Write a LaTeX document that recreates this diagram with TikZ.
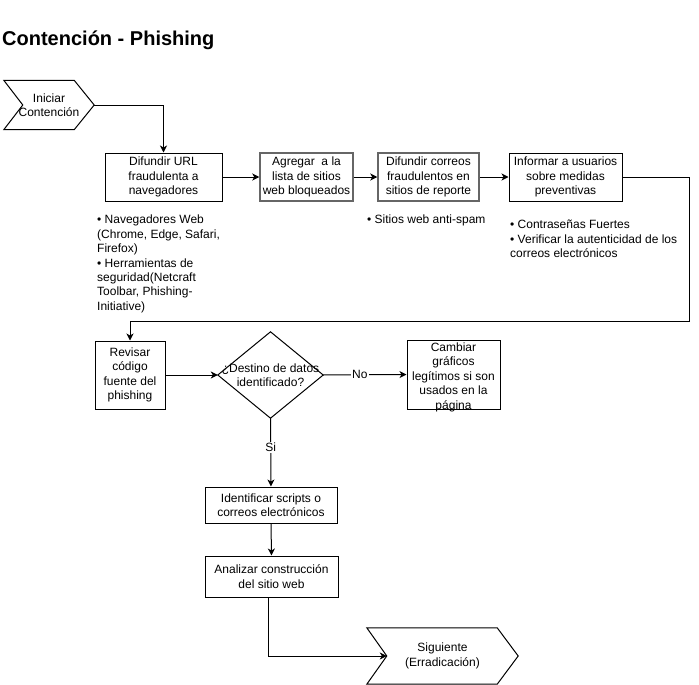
\documentclass[tikz,border=0pt]{standalone}
\usepackage{fontspec}
\setmainfont{Liberation Sans}
\usetikzlibrary{arrows.meta,calc}
\begin{document}
\begin{tikzpicture}[x=1pt,y=-1pt,
  every node/.style={font=\fontsize{12}{14.4}\selectfont, inner sep=0pt},
  box/.style={draw=black, line width=1pt, align=center},
  graybox/.style={draw=black!60, line width=1.5pt, align=center},
  note/.style={align=left, anchor=north west},
  shapeline/.style={draw=black, line width=1pt},
  arr/.style={-{Stealth[length=7pt,width=7pt,inset=2pt]}, line width=1pt, draw=black},
  lbl/.style={fill=white, inner sep=1pt}]
\useasboundingbox (0,0) rectangle (699,685);

% title
\node[anchor=base west, font=\fontsize{20}{24}\selectfont\bfseries] (title) at (2,46) {Contención - Phishing};

% start chevron
\node[minimum width=90, minimum height=49, align=center] (start) at (49,105) {Iniciar\\Contención};
\draw[shapeline] (start.north west) -- ($(start.north east)+(-20,0)$) -- (start.east)
  -- ($(start.south east)+(-20,0)$) -- (start.south west) -- ($(start.west)+(19,0)$) -- cycle;

% top row boxes
\node[box, minimum width=117, minimum height=48] (b1) at (163.5,177) {Difundir URL\\fraudulenta a\\navegadores};
\node[graybox, minimum width=93, minimum height=48] (b2) at (306.5,177) {Agregar\ \ a la\\lista de sitios\\web bloqueados};
\node[graybox, minimum width=101, minimum height=48] (b3) at (428.5,177) {Difundir correos\\fraudulentos en\\sitios de reporte};
\node[box, minimum width=113, minimum height=48] (b4) at (565.5,177) {Informar a usuarios\\sobre medidas\\preventivas};

% notes
\node[note] (n1) at (97,215) {• Navegadores Web\\(Chrome, Edge, Safari,\\Firefox)\\• Herramientas de\\seguridad(Netcraft\\Toolbar, Phishing-\\Initiative)};
\node[note] (n3) at (367,215) {• Sitios web anti-spam};
\node[note] (n4) at (510,220) {• Contraseñas Fuertes\\• Verificar la autenticidad de los\\correos electrónicos};

% second row
\node[box, minimum width=70, minimum height=68] (rev) at (130,375) {Revisar\\código\\fuente del\\phishing};
\node[minimum width=105, minimum height=86, align=center] (dia) at (270.5,375) {¿Destino de datos\\identificado?};
\draw[shapeline] (dia.west) -- (dia.north) -- (dia.east) -- (dia.south) -- cycle;
\node[box, minimum width=93, minimum height=69] (cam) at (453.5,374.5)
  {\smash{\raisebox{-6pt}{\begin{tabular}{@{}c@{}}Cambiar\\gráficos\\legítimos si son\\usados en la\\página\end{tabular}}}};

% lower boxes
\node[box, minimum width=132, minimum height=36] (idn) at (271,505) {Identificar scripts o\\correos electrónicos};
\node[box, minimum width=133, minimum height=41] (ana) at (271.5,576.5) {Analizar construcción\\del sitio web};

% end chevron
\node[minimum width=151, minimum height=56, align=center] (sig) at (442.5,656) {Siguiente\\(Erradicación)};
\draw[shapeline] (sig.north west) -- ($(sig.north east)+(-21,0)$) -- (sig.east)
  -- ($(sig.south east)+(-21,0)$) -- (sig.south west) -- ($(sig.west)+(20,0)$) -- cycle;
\coordinate (signotch) at ($(sig.west)+(20,0)$);

% connectors
\draw[arr] (start.east) -| (b1.north);
\draw[arr] (b1.east) -- (b2.west);
\draw[arr] (b2.east) -- (b3.west);
\draw[arr] (b3.east) -- (b4.west);
\coordinate (c1) at (689,321);
\draw[arr] (b4.east) -| (c1) -| (rev.north);
\draw[arr] (rev.east) -- (dia.west);
\draw[arr] (dia.east) -- node[lbl, pos=0.44] {No} (cam.west);
\draw[arr] (dia.south) -- node[lbl, pos=0.43] {Si} (idn.north);
\draw[arr] (idn.south) -- (ana.north);
\draw[arr] ([xshift=-3pt]ana.south) |- (signotch);
\end{tikzpicture}
\end{document}
